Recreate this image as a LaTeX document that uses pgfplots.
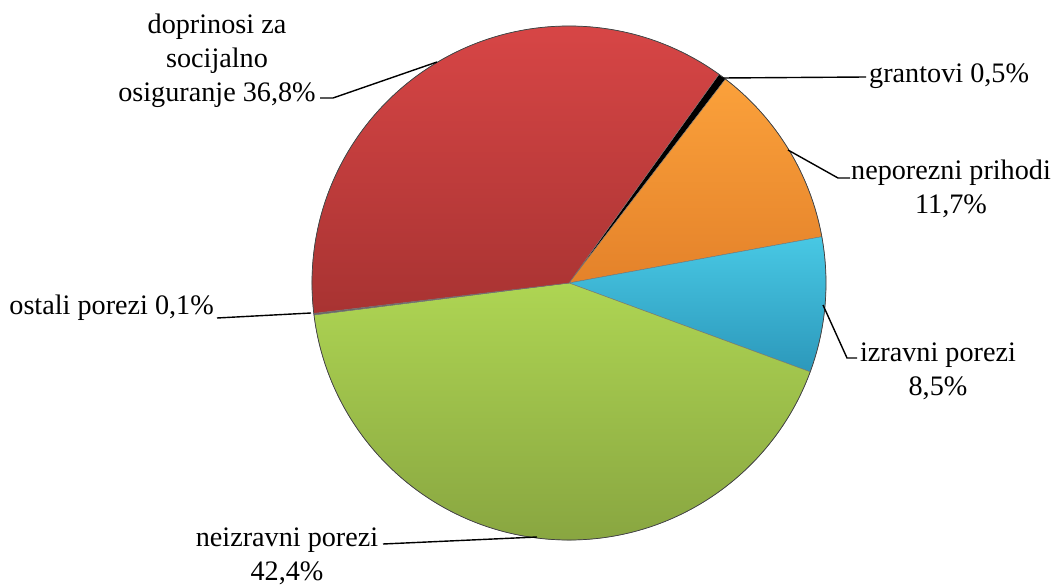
\documentclass[border=0pt]{standalone}
\usepackage{pgfplots}
\pgfplotsset{compat=1.18}
\usepackage{fontspec}
\setmainfont{Liberation Serif}

\definecolor{redT}{HTML}{D84646}
\definecolor{redB}{HTML}{A83332}
\definecolor{orgT}{HTML}{FBA13B}
\definecolor{orgB}{HTML}{E4822A}
\definecolor{cyaT}{HTML}{48C8E4}
\definecolor{cyaB}{HTML}{2C98BB}
\definecolor{grnT}{HTML}{AED553}
\definecolor{grnB}{HTML}{84A03E}

% shares in percent, clockwise from the top right
\def\vGrant{0.5}
\def\vNepor{11.7}
\def\vIzr{8.5}
\def\vNeizr{42.4}
\def\vOst{0.1}
\def\vDopr{36.8}

\pgfmathsetmacro\aA{54.3}
\pgfmathsetmacro\aB{\aA-3.6*\vGrant}
\pgfmathsetmacro\aC{\aB-3.6*\vNepor}
\pgfmathsetmacro\aD{\aC-3.6*\vIzr}
\pgfmathsetmacro\aE{\aD-3.6*\vNeizr}
\pgfmathsetmacro\aF{\aE-3.6*\vOst}

\newcommand{\slice}[4]{%
  \shade[top color=#3, bottom color=#4, draw=black!55, line width=0.4pt]
    (c) -- ++(#1:257pt) arc[start angle=#1, delta angle={-3.6*#2}, radius=257pt] -- cycle;}

\newcommand{\lbl}{\fontsize{28.2}{34}\selectfont}

\begin{document}
\begin{tikzpicture}
\begin{axis}[width=1055pt, height=580pt, scale only axis, hide axis,
    xmin=0, xmax=1055, ymin=0, ymax=580, y dir=reverse, clip=false]
  \path (axis cs:0,0) rectangle (axis cs:1055,580);
  \coordinate (c) at (axis cs:569,283);

  \slice{\aA}{\vGrant}{black}{black}
  \slice{\aB}{\vNepor}{orgT}{orgB}
  \slice{\aC}{\vIzr}{cyaT}{cyaB}
  \slice{\aD}{\vNeizr}{grnT}{grnB}
  \slice{\aE}{\vOst}{black!60}{black!60}
  \slice{\aF}{\vDopr}{redT}{redB}
  \draw[black!75, line width=0.7pt] (c) circle[radius=257pt];

  % leader lines
  \draw[line width=1.4pt] (axis cs:722,78) -- (axis cs:866,77);
  \draw[line width=1.4pt] (axis cs:788,150) -- (axis cs:838,178) -- (axis cs:850,178);
  \draw[line width=1.4pt] (axis cs:823,305) -- (axis cs:847,358) -- (axis cs:857,358);
  \draw[line width=1.4pt] (axis cs:537,537) -- (axis cs:383,544);
  \draw[line width=1.4pt] (axis cs:311,313) -- (axis cs:217,318);
  \draw[line width=1.4pt] (axis cs:437,62) -- (axis cs:333,98) -- (axis cs:320,98);

  % labels
  \node[anchor=west, font=\lbl, inner sep=0pt] at (axis cs:869,76) {grantovi 0,5\%};
  \node[align=center, font=\lbl, inner sep=0pt] at (axis cs:951,189) {neporezni prihodi\\11,7\%};
  \node[align=center, font=\lbl, inner sep=0pt] at (axis cs:938,371) {izravni porezi\\8,5\%};
  \node[align=center, font=\lbl, inner sep=0pt] at (axis cs:287,556) {neizravni porezi\\42,4\%};
  \node[anchor=east, font=\lbl, inner sep=0pt] at (axis cs:214,308) {ostali porezi 0,1\%};
  \node[align=center, font=\lbl, inner sep=0pt] at (axis cs:217,61) {doprinosi za\\socijalno\\osiguranje 36,8\%};
\end{axis}
\end{tikzpicture}
\end{document}
